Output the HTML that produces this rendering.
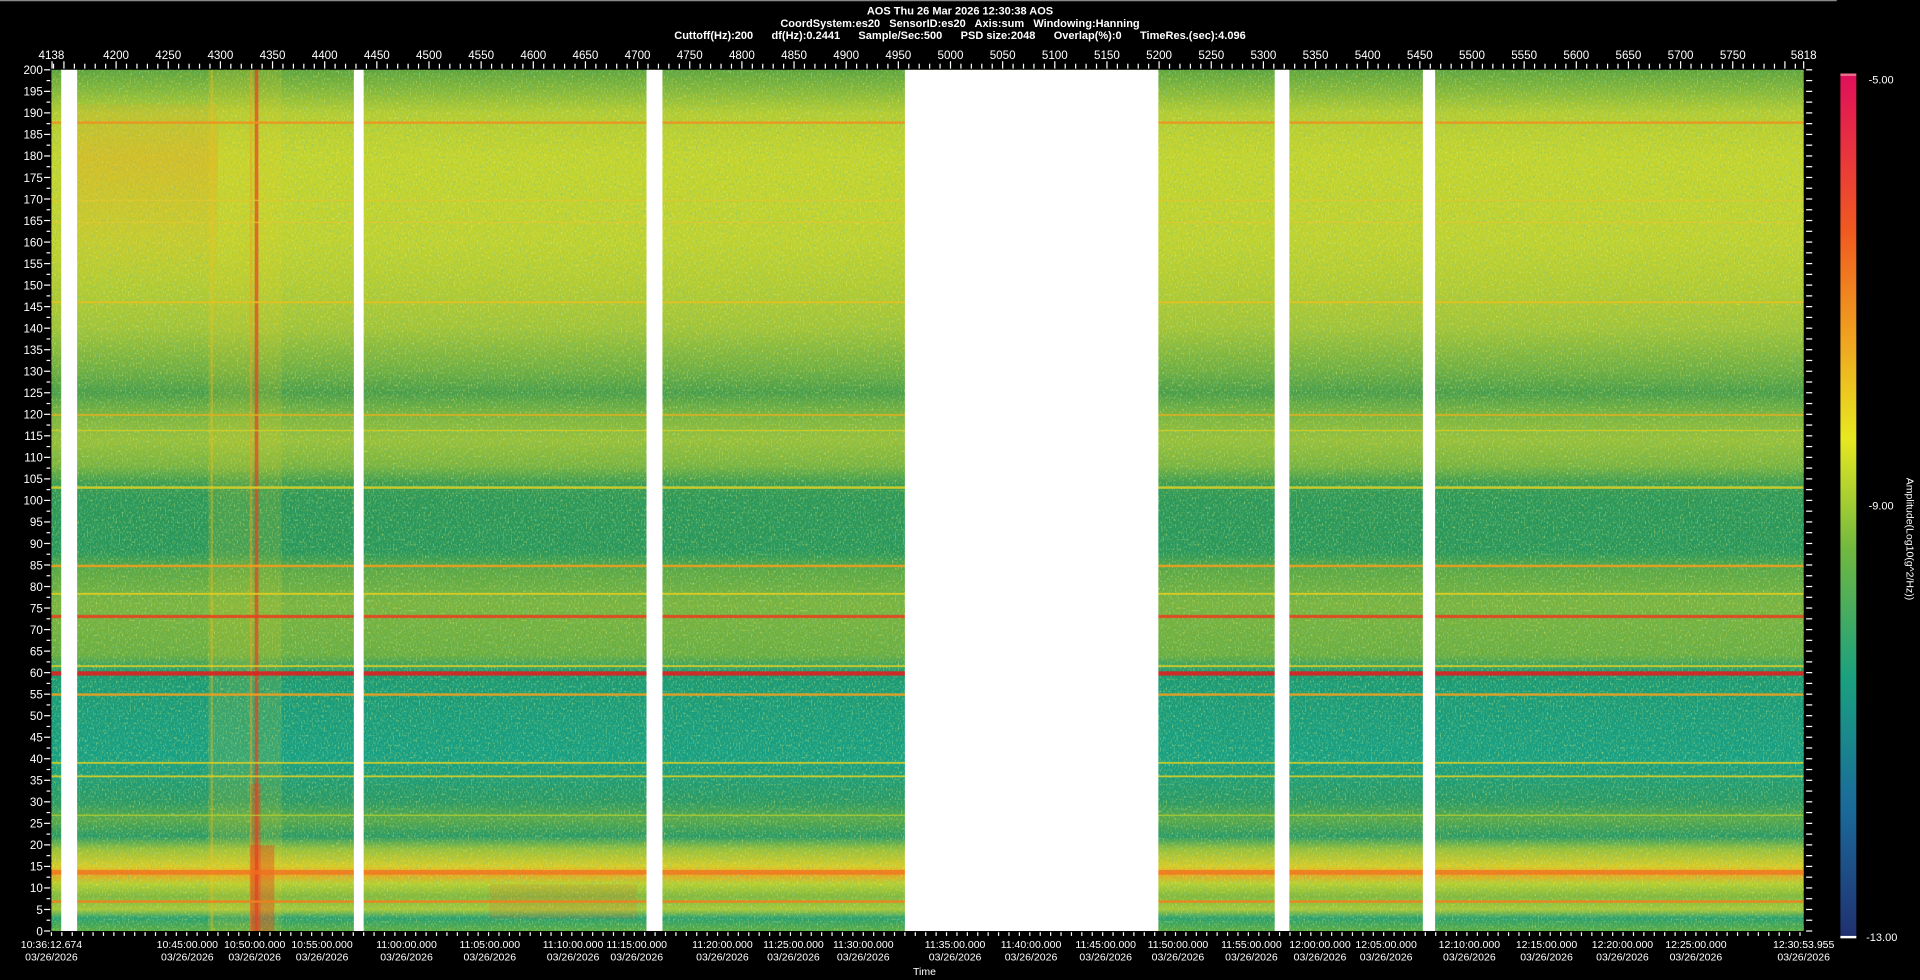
<!DOCTYPE html>
<html><head><meta charset="utf-8"><style>
html,body{margin:0;padding:0;background:#000;width:1920px;height:980px;overflow:hidden}
svg{display:block}
text{font-family:"Liberation Sans",sans-serif;fill:#fff}
</style></head><body>
<svg width="1920" height="980" viewBox="0 0 1568 800" preserveAspectRatio="none">
<defs>
<linearGradient id="sp" x1="0" y1="57" x2="0" y2="760" gradientUnits="userSpaceOnUse">
<stop offset="0" stop-color="#5ea43e"/>
<stop offset="0.025" stop-color="#86b83a"/>
<stop offset="0.05" stop-color="#b4cc32"/>
<stop offset="0.1" stop-color="#c4d42e"/>
<stop offset="0.2" stop-color="#c0d230"/>
<stop offset="0.25" stop-color="#b4cc32"/>
<stop offset="0.3" stop-color="#a2c438"/>
<stop offset="0.35" stop-color="#6eae42"/>
<stop offset="0.375" stop-color="#4a9e4a"/>
<stop offset="0.4" stop-color="#7ab440"/>
<stop offset="0.43" stop-color="#98c03a"/>
<stop offset="0.46" stop-color="#7ab440"/>
<stop offset="0.48" stop-color="#3c9c52"/>
<stop offset="0.5" stop-color="#2c985a"/>
<stop offset="0.56" stop-color="#2a985c"/>
<stop offset="0.58" stop-color="#5aa846"/>
<stop offset="0.62" stop-color="#7ab440"/>
<stop offset="0.68" stop-color="#6aae42"/>
<stop offset="0.7" stop-color="#1c9a74"/>
<stop offset="0.8" stop-color="#18a084"/>
<stop offset="0.85" stop-color="#2a9a66"/>
<stop offset="0.87" stop-color="#58a84a"/>
<stop offset="0.89" stop-color="#2a9a66"/>
<stop offset="0.905" stop-color="#98c03a"/>
<stop offset="0.925" stop-color="#d8cc28"/>
<stop offset="0.933" stop-color="#f0a020"/>
<stop offset="0.945" stop-color="#b8d030"/>
<stop offset="0.96" stop-color="#80b83e"/>
<stop offset="0.975" stop-color="#a8c838"/>
<stop offset="0.985" stop-color="#2aa070"/>
<stop offset="1" stop-color="#5aac44"/>
</linearGradient>
<linearGradient id="cb" x1="0" y1="0" x2="0" y2="1">
<stop offset="0" stop-color="#e0105a"/>
<stop offset="0.18" stop-color="#f05a20"/>
<stop offset="0.3" stop-color="#f0a020"/>
<stop offset="0.42" stop-color="#e8e820"/>
<stop offset="0.55" stop-color="#70b840"/>
<stop offset="0.7" stop-color="#1aa080"/>
<stop offset="0.85" stop-color="#1a6a9a"/>
<stop offset="1" stop-color="#203070"/>
</linearGradient>
<linearGradient id="og" x1="0" y1="0" x2="0" y2="1">
<stop offset="0" stop-color="#f09020" stop-opacity="0.1"/>
<stop offset="0.3" stop-color="#f09020" stop-opacity="0.3"/>
<stop offset="1" stop-color="#f0a020" stop-opacity="0"/>
</linearGradient>
<filter id="nzd" x="0" y="0" width="100%" height="100%">
<feTurbulence type="fractalNoise" baseFrequency="0.8 0.5" numOctaves="1" seed="3"/>
<feColorMatrix type="matrix" values="0 0 0 0 0.15  0 0 0 0 0.55  0 0 0 0 0.3  3.5 0 0 0 -1.9"/>
</filter>
<filter id="nzy" x="0" y="0" width="100%" height="100%">
<feTurbulence type="fractalNoise" baseFrequency="0.8 0.5" numOctaves="1" seed="9"/>
<feColorMatrix type="matrix" values="0 0 0 0 0.9  0 0 0 0 0.9  0 0 0 0 0.15  3.5 0 0 0 -1.9"/>
</filter>
</defs>

<line x1="0" y1="0.5" x2="1500" y2="0.5" stroke="#888" stroke-width="1"/>

<g font-size="9" font-weight="bold" text-anchor="middle">
<text x="784" y="12">AOS  Thu 26 Mar 2026 12:30:38  AOS</text>
<text x="784" y="22" xml:space="preserve">CoordSystem:es20   SensorID:es20   Axis:sum   Windowing:Hanning</text>
<text x="784" y="32" xml:space="preserve">Cuttoff(Hz):200      df(Hz):0.2441      Sample/Sec:500      PSD size:2048      Overlap(%):0      TimeRes.(sec):4.096</text>
</g>

<rect x="42" y="57" width="1431" height="703" fill="url(#sp)"/>
<rect x="42" y="57" width="1431" height="703" filter="url(#nzd)" opacity="0.6"/>
<rect x="42" y="57" width="1431" height="703" filter="url(#nzy)" opacity="0.5"/>
<rect x="63" y="85" width="115" height="150" fill="url(#og)"/>
<rect x="170" y="57" width="60" height="703" fill="#e8d020" opacity="0.15"/>
<rect x="208" y="57" width="3" height="703" fill="#e84020" opacity="0.7"/>
<rect x="204" y="57" width="2" height="703" fill="#f0a020" opacity="0.5"/>
<rect x="204" y="690" width="20" height="70" fill="#e84020" opacity="0.4"/>
<rect x="205" y="640" width="8" height="120" fill="#e84020" opacity="0.3"/>
<rect x="172" y="57" width="2" height="703" fill="#f0c020" opacity="0.35"/>
<rect x="400" y="722" width="120" height="28" fill="#e86020" opacity="0.15"/>

<g opacity="0.9">
<rect x="42" y="99" width="1431" height="2" fill="#f09020"/>
<rect x="42" y="163" width="1431" height="1" fill="#e0c830"/>
<rect x="42" y="181" width="1431" height="1" fill="#e0c830"/>
<rect x="42" y="246" width="1431" height="1.5" fill="#e8c020"/>
<rect x="42" y="338" width="1431" height="1.5" fill="#e0b020"/>
<rect x="42" y="351" width="1431" height="1" fill="#d8d028"/>
<rect x="42" y="397" width="1431" height="2" fill="#d8d028"/>
<rect x="42" y="461" width="1431" height="2" fill="#f0a020"/>
<rect x="42" y="484" width="1431" height="1.5" fill="#e8d020"/>
<rect x="42" y="502" width="1431" height="2.5" fill="#e84020"/>
<rect x="42" y="543" width="1431" height="1.5" fill="#e0d028"/>
<rect x="42" y="548" width="1431" height="3.5" fill="#e02020"/>
<rect x="42" y="566" width="1431" height="2" fill="#f0a020"/>
<rect x="42" y="622" width="1431" height="1.5" fill="#d8d028"/>
<rect x="42" y="633" width="1431" height="1.5" fill="#d8d028"/>
<rect x="42" y="665" width="1431" height="1" fill="#b8d030"/>
<rect x="42" y="710" width="1431" height="4" fill="#f07020" opacity="0.8"/>
<rect x="42" y="735" width="1431" height="2" fill="#f08020"/>
</g>

<g fill="#fff">
<rect x="50" y="57" width="13" height="703"/>
<rect x="289" y="57" width="8" height="703"/>
<rect x="528" y="57" width="13" height="703"/>
<rect x="739" y="57" width="207" height="703"/>
<rect x="1041" y="57" width="12" height="703"/>
<rect x="1162" y="57" width="10" height="703"/>
</g>

<g stroke="#fff" stroke-width="1" id="toptk"></g>
<g font-size="9.5" text-anchor="middle" id="toplb"></g>
<g stroke="#fff" id="ltk"></g>
<g font-size="9.5" text-anchor="end" id="llb"></g>
<g stroke="#fff" id="rtk"></g>
<g stroke="#fff" id="btk"></g>

<g font-size="8.6" text-anchor="middle">
<text x="42" y="774">10:36:12.674</text><text x="42" y="784">03/26/2026</text>
<text x="153" y="774">10:45:00.000</text><text x="153" y="784">03/26/2026</text>
<text x="208" y="774">10:50:00.000</text><text x="208" y="784">03/26/2026</text>
<text x="263" y="774">10:55:00.000</text><text x="263" y="784">03/26/2026</text>
<text x="332" y="774">11:00:00.000</text><text x="332" y="784">03/26/2026</text>
<text x="400" y="774">11:05:00.000</text><text x="400" y="784">03/26/2026</text>
<text x="468" y="774">11:10:00.000</text><text x="468" y="784">03/26/2026</text>
<text x="520" y="774">11:15:00.000</text><text x="520" y="784">03/26/2026</text>
<text x="590" y="774">11:20:00.000</text><text x="590" y="784">03/26/2026</text>
<text x="648" y="774">11:25:00.000</text><text x="648" y="784">03/26/2026</text>
<text x="705" y="774">11:30:00.000</text><text x="705" y="784">03/26/2026</text>
<text x="780" y="774">11:35:00.000</text><text x="780" y="784">03/26/2026</text>
<text x="842" y="774">11:40:00.000</text><text x="842" y="784">03/26/2026</text>
<text x="903" y="774">11:45:00.000</text><text x="903" y="784">03/26/2026</text>
<text x="962" y="774">11:50:00.000</text><text x="962" y="784">03/26/2026</text>
<text x="1022" y="774">11:55:00.000</text><text x="1022" y="784">03/26/2026</text>
<text x="1078" y="774">12:00:00.000</text><text x="1078" y="784">03/26/2026</text>
<text x="1132" y="774">12:05:00.000</text><text x="1132" y="784">03/26/2026</text>
<text x="1200" y="774">12:10:00.000</text><text x="1200" y="784">03/26/2026</text>
<text x="1263" y="774">12:15:00.000</text><text x="1263" y="784">03/26/2026</text>
<text x="1325" y="774">12:20:00.000</text><text x="1325" y="784">03/26/2026</text>
<text x="1385" y="774">12:25:00.000</text><text x="1385" y="784">03/26/2026</text>
<text x="1473" y="774">12:30:53.955</text><text x="1473" y="784">03/26/2026</text>
<text x="755" y="796">Time</text>
</g>

<rect x="1503" y="62" width="13" height="703" fill="url(#cb)"/>
<rect x="1503" y="60" width="13" height="2" fill="#f07090"/>
<rect x="1503" y="764" width="13" height="2" fill="#fff"/>
<g font-size="9">
<text x="1526" y="68">-5.00</text>
<text x="1526" y="416">-9.00</text>
<text x="1524" y="768">-13.00</text>
</g>
<text transform="translate(1557,440) rotate(90)" font-size="8.6" text-anchor="middle">Amplitude(Log10(g^2/Hz))</text>

<script>
(function(){
var ns="http://www.w3.org/2000/svg";
function el(g,tag,a,t){var e=document.createElementNS(ns,tag);for(var k in a)e.setAttribute(k,a[k]);if(t!==undefined)e.textContent=t;document.getElementById(g).appendChild(e);}
var s=1431/1680;
for(var v=4140;v<=5818;v+=10){var x=42+(v-4138)*s;var maj=v%50==0;el("toptk","line",{x1:x,x2:x,y1:maj?50:52,y2:56});}
el("toptk","line",{x1:42.5,x2:42.5,y1:50,y2:56});el("toptk","line",{x1:1473,x2:1473,y1:50,y2:56});
el("toplb","text",{x:42,y:48},"4138");
for(var v=4200;v<=5750;v+=50){el("toplb","text",{x:42+(v-4138)*s,y:48},String(v));}
el("toplb","text",{x:1473,y:48},"5818");
for(var f=0;f<=200;f+=2.5){var y=760-f*3.515;var maj=f%5==0;el("ltk","line",{x1:maj?36:38,x2:41,y1:y,y2:y});el("rtk","line",{x1:1475,x2:1480,y1:y,y2:y});if(maj)el("llb","text",{x:35,y:y+3.5},String(f));}
for(var x=42;x<=1473;x+=8.5){el("btk","line",{x1:x,x2:x,y1:761,y2:764});}
})();
</script>
</svg>
</body></html>
